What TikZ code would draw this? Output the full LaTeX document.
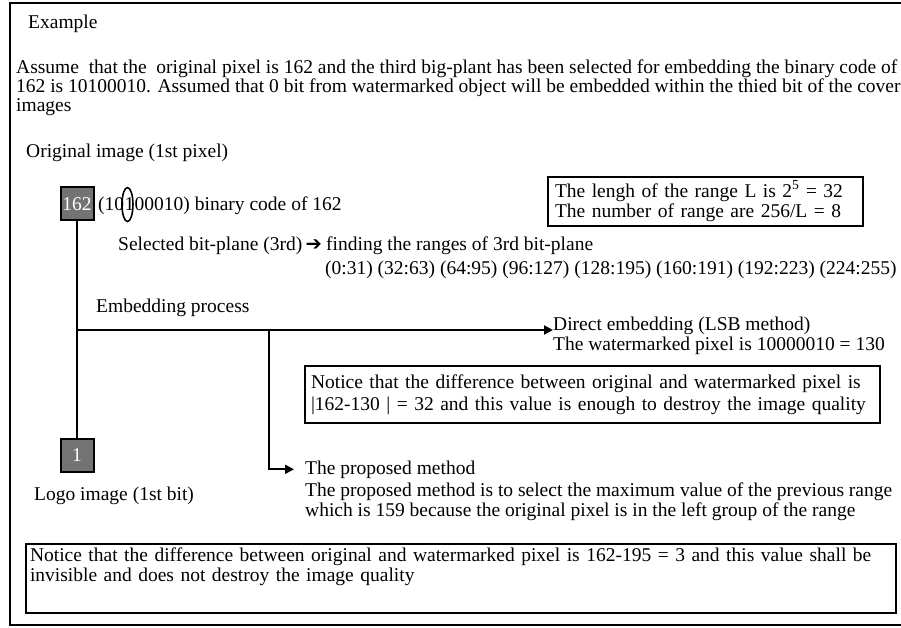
\documentclass[tikz,border=0pt]{standalone}
\usepackage{fontspec}
\setmainfont{Liberation Serif}
\newfontfamily\symfont{DejaVu Sans}
\usepackage{tikz}
\usetikzlibrary{positioning}
\usetikzlibrary{arrows.meta}

\begin{document}
\begin{tikzpicture}[x=1pt, y=-1pt, font=\fontsize{19.5}{20}\selectfont,
			txt/.style={anchor=base west, inner sep=0pt},
			pix/.style={draw, line width=2pt, fill=black!55, text=white, minimum size=33pt, inner sep=0pt},
			infobox/.style={draw, line width=2pt, anchor=north west, align=left, inner xsep=6pt, inner ysep=4pt},
			conn/.style={line width=2pt},
			>={Triangle[length=9pt, width=9pt]}]
			\useasboundingbox (0,0) rectangle (901,628);
			\draw[line width=2.5pt] (10,3) rectangle (930,625);
			
			\node[txt](title) at (28,29) {Example};
			\node[txt](assume1) at (16,74) {Assume\ \ that the\ \ original pixel is 162 and the third big-plant has been selected for embedding the binary code of};
			\node[txt](assume2) at (16,93) {162 is 10100010. Assumed that 0 bit from watermarked object will be embedded within the thied bit of the cover};
			\node[txt](assume3) at (16,112) {images};
			
			\node[txt](orig) at (26,158) {Original image (1st pixel)};
			\node[pix](box162) at (77,204) {162};
			\node[txt](binA) at (98,211) {(10};
			\node[txt, base right=0pt of binA](binB) {1};
			\node[txt, base right=0pt of binB](binC) {00010) binary code of 162};
			\draw[line width=1.6pt] ([xshift=-2pt]binB.center) ellipse (5.5 and 17);
			
			\node[infobox, text width=301pt, minimum height=43pt, inner xsep=7pt](range) at (547,176) {The lengh of the range L is 2\textsuperscript{5} = 32 \\ The number of range are 256/L = 8};
			
			\node[txt](select) at (118,251) {Selected bit-plane (3rd)};
			\node[txt, base right=3pt of select](arrowsym) {\symfont\bfseries ➔};
			\node[txt](finding) at (326,251) {finding the ranges of 3rd bit-plane};
			\node[txt](ranges) at (325,274) {(0:31) (32:63) (64:95) (96:127) (128:195) (160:191) (192:223) (224:255)};
			
			\node[txt](embed) at (96,312) {Embedding process};
			\node[txt](direct) at (553,330) {Direct embedding (LSB method)};
			\node[txt](wm) at (553,350) {The watermarked pixel is 10000010 = 130};
			\node[infobox, text width=563pt, minimum height=57pt](notice1) at (304,365) {Notice that the difference between original and watermarked pixel is \\[2pt] \textbar 162-130 \textbar\ = 32 and this value is enough to destroy the image quality};
			
			\node[pix](box1) at (77,455) {1};
			\node[txt](logo) at (34,500) {Logo image (1st bit)};
			
			\node[txt](proposed) at (305,474) {The proposed method};
			\node[txt](prop2) at (305,496) {The proposed method is to select the maximum value of the previous range};
			\node[txt](prop3) at (305,516) {which is 159 because the original pixel is in the left group of the range};
			
			\node[infobox, text width=862pt, inner xsep=4pt, text depth=47pt](notice2) at (25,543) {Notice that the difference between original and watermarked pixel is 162-195 = 3 and this value shall be \\ invisible and does not destroy the image quality};
			
			\coordinate (split) at (77,330);
			\coordinate (branch) at (269,330);
			\draw[conn] (box162) -- (box1);
			\draw[conn,->] (split) -- (split -| direct.west);
			\draw[conn,->,shorten >=11pt] (branch) |- (proposed.west);
			\end{tikzpicture}
\end{document}
